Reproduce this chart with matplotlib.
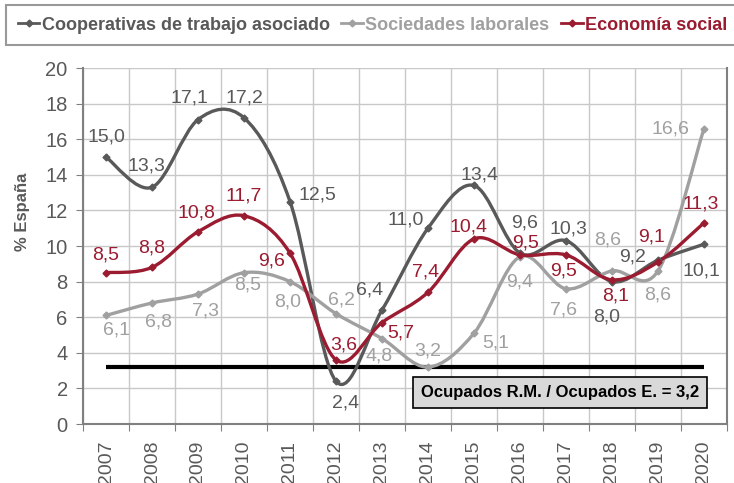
import numpy as np
import matplotlib
matplotlib.use('Agg')
import matplotlib.pyplot as plt
from matplotlib.path import Path
from matplotlib.patches import PathPatch
from matplotlib.lines import Line2D

plt.rcParams['font.family'] = ['Liberation Sans', 'DejaVu Sans']

years = ['2007', '2008', '2009', '2010', '2011', '2012', '2013',
         '2014', '2015', '2016', '2017', '2018', '2019', '2020']
cooperativas = [15.0, 13.3, 17.1, 17.2, 12.5, 2.4, 6.4, 11.0, 13.4, 9.6, 10.3, 8.0, 9.2, 10.1]
sociedades = [6.1, 6.8, 7.3, 8.5, 8.0, 6.2, 4.8, 3.2, 5.1, 9.4, 7.6, 8.6, 8.6, 16.6]
economia = [8.5, 8.8, 10.8, 11.7, 9.6, 3.6, 5.7, 7.4, 10.4, 9.5, 9.5, 8.1, 9.1, 11.3]
ratio = 3.2
ratio_label = 'Ocupados R.M. / Ocupados E. = 3,2'

names = ['Cooperativas de trabajo asociado', 'Sociedades laborales', 'Economía social']
colors = ['#595959', '#a0a0a0', '#9b1b30']

# label offsets in pixels (dx, dy)
off_coop = [(0, 20), (-6, 21), (-9, 22), (0, 20), (27, 6), (10, -22), (-12, 20),
            (-22, 8), (6, 10), (5, 30), (2, 12), (-5, -35), (-25, 3), (-3, -27)]
off_soc = [(10, -15), (7, -19), (8, -17), (4, -12), (-2, -20), (6, 14), (-3, -17),
           (0, 16), (22, -10), (0, -25), (-2, -21), (-4, 31), (0, -24), (-34, 0)]
off_eco = [(0, 18), (0, 19), (-2, 19), (0, 20), (-18, -8), (8, 15), (19, -10),
           (-2, 20), (-5, 12), (6, 12), (-2, -16), (4, -16), (-6, 25), (-3, 19)]


def smooth_path(x, y):
    # Catmull-Rom style bezier, like Excel's smoothed line
    pts = np.column_stack([x, y]).astype(float)
    n = len(pts)
    verts = [pts[0]]
    codes = [Path.MOVETO]
    for i in range(n - 1):
        p0 = pts[i - 1] if i > 0 else pts[i]
        p1 = pts[i]
        p2 = pts[i + 1]
        p3 = pts[i + 2] if i + 2 < n else pts[i + 1]
        verts += [p1 + (p2 - p0) / 6, p2 - (p3 - p1) / 6, p2]
        codes += [Path.CURVE4] * 3
    return Path(verts, codes)


W, H = 734, 483
fig = plt.figure(figsize=(W / 100, H / 100), dpi=100)
ax = fig.add_axes([83 / W, (H - 424) / H, (727 - 83) / W, (424 - 68) / H])

x = np.arange(len(years))
ax.set_xlim(-0.5, len(years) - 0.5)
ax.set_ylim(0, 20)
ax.set_yticks(np.arange(0, 21, 2))

ax.set_xticks(np.arange(-0.5, len(years), 1))
ax.set_xticklabels([])
ax.set_xticks(x, minor=True)
ax.set_xticklabels(years, minor=True, rotation=90, fontsize=14, color='#595959')
ax.tick_params(axis='x', which='minor', length=0, pad=12)
ax.tick_params(axis='x', which='major', length=5, color='#808080')
ax.tick_params(axis='y', length=5, color='#808080', labelsize=14.5, labelcolor='#595959', pad=6)

ax.grid(True, which='major', color='#c8c8c8', lw=1)
ax.set_axisbelow(True)
for s in ['left', 'right', 'bottom']:
    ax.spines[s].set_color('#808080')
    ax.spines[s].set_linewidth(1.5)
ax.spines['top'].set_visible(False)

series = [cooperativas, sociedades, economia]
offsets = [off_coop, off_soc, off_eco]
for vals, col, offs in zip(series, colors, offsets):
    ax.add_patch(PathPatch(smooth_path(x, vals), fill=False, edgecolor=col, lw=2.4,
                           capstyle='round', joinstyle='round', zorder=3))
    ax.plot(x, vals, linestyle='none', marker='D', markersize=3.5, color=col, zorder=4)
    for xi, v, (dx, dy) in zip(x, vals, offs):
        ax.annotate(('%.1f' % v).replace('.', ','), (xi, v), xytext=(dx, dy),
                    textcoords='offset pixels', ha='center', va='center',
                    fontsize=14, color=col, zorder=5)

ax.hlines(ratio, x[0], x[-1], color='black', lw=3, zorder=2.5)
ax.text(9.87, 1.77, ratio_label, ha='center', va='center', fontsize=12,
        fontweight='bold', color='black', zorder=6,
        bbox=dict(boxstyle='square,pad=0.5', facecolor='#d9d9d9', edgecolor='black', lw=1.2))

fig.text(23 / W, 1 - 212 / H, '% España', rotation=90, ha='center', va='center',
         fontsize=12, fontweight='bold', color='#595959')

handles = [Line2D([], [], color=c, lw=2, marker='D', markersize=3.5) for c in colors]
leg = fig.legend(handles, names, loc='upper left', bbox_to_anchor=(6 / W, 1 - 5 / H),
                 bbox_transform=fig.transFigure, ncol=3, frameon=True, fancybox=False,
                 borderaxespad=0, borderpad=0.65, handlelength=1.2, handletextpad=0.12,
                 columnspacing=0.65, prop={'size': 13, 'weight': 'bold'})
leg.get_frame().set_edgecolor('#808080')
leg.get_frame().set_linewidth(1.5)
for t, c in zip(leg.get_texts(), colors):
    t.set_color(c)

fig.savefig('out.png', dpi=100)
